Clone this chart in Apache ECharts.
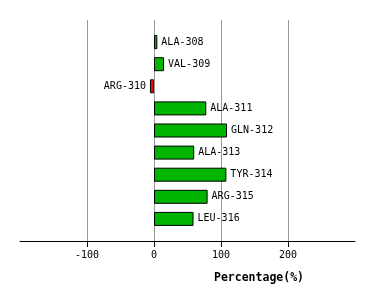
<!DOCTYPE html>
<html><head><meta charset="utf-8">
<script src="https://cdn.jsdelivr.net/npm/echarts@6/dist/echarts.min.js"></script>
<style>html,body{margin:0;padding:0;background:#fff}#c{width:374px;height:300px}</style>
</head><body><div id="c"></div>
<script>
const residues = ['ALA-308','VAL-309','ARG-310','ALA-311','GLN-312','ALA-313','TYR-314','ARG-315','LEU-316'];
const values = [5, 15, -6, 78, 109, 60, 108, 80, 59];
const xTicks = [-100, 0, 100, 200];
const xMin = -200, xMax = 300;

const cats = [' '].concat(residues, ['  ']);
const data = [null].concat(values.map((v, i) => ({
  value: v,
  itemStyle: { color: v < 0 ? '#ff0000' : '#00b400' },
  label: { position: v < 0 ? 'left' : 'right', formatter: residues[i] }
})), [null]);

const font = 'DejaVu Sans Mono';
const chart = echarts.init(document.getElementById('c'));
chart.setOption({
  animation: false,
  grid: { left: 20, right: 19, top: 20, bottom: 59 },
  xAxis: {
    type: 'value', min: xMin, max: xMax, interval: 100,
    axisLine: { show: true, lineStyle: { color: '#000', width: 1 } },
    axisTick: { show: true, length: 6, customValues: xTicks, lineStyle: { color: '#000' } },
    axisLabel: { customValues: xTicks, color: '#000', fontFamily: font, fontSize: 10, margin: 9 },
    splitLine: { show: true, lineStyle: { color: '#999', width: 1 } }
  },
  yAxis: {
    type: 'category', data: cats, inverse: true, boundaryGap: false,
    axisLine: { show: false }, axisTick: { show: false }, axisLabel: { show: false }, splitLine: { show: false }
  },
  title: {
    text: 'Percentage(%)', left: 209, top: 267,
    textStyle: { fontFamily: font, fontWeight: 'bold', fontSize: 11.5, color: '#000' }
  },
  series: [{
    type: 'bar', data: data, barWidth: 14,
    itemStyle: { borderColor: '#000', borderWidth: 1 },
    label: { show: true, distance: 4, color: '#000', fontFamily: font, fontSize: 10 }
  }]
});
</script></body></html>
